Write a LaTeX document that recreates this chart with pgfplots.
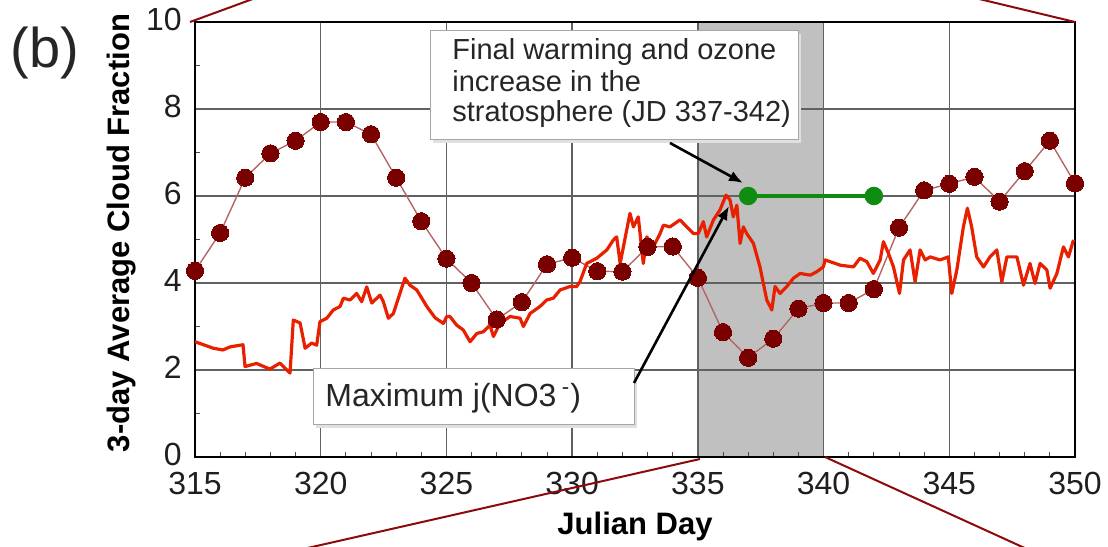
\documentclass[border=0pt]{standalone}
\usepackage{fontspec}
\setmainfont{Liberation Sans}
\usepackage{pgfplots}
\usepackage{pgfplotstable}
\pgfplotsset{compat=1.18}
\usetikzlibrary{arrows.meta}
\definecolor{dotred}{RGB}{122,0,0}
\definecolor{linkred}{RGB}{180,100,100}
\definecolor{jred}{RGB}{232,32,0}
\definecolor{ggreen}{RGB}{16,140,16}
\definecolor{zoomred}{RGB}{140,10,10}
\definecolor{band}{RGB}{192,192,192}

\pgfplotstableread{
x y
315.00 2.65
315.73 2.50
316.11 2.46
316.39 2.53
316.79 2.57
316.91 2.58
316.99 2.08
317.45 2.15
317.98 2.02
318.38 2.16
318.78 1.93
318.91 3.15
319.18 3.08
319.38 2.50
319.64 2.62
319.84 2.57
319.97 3.11
320.24 3.19
320.50 3.38
320.77 3.46
320.90 3.65
321.17 3.61
321.43 3.76
321.63 3.57
321.83 3.91
322.03 3.54
322.36 3.72
322.49 3.57
322.69 3.19
322.89 3.30
323.15 3.76
323.35 4.11
323.55 3.95
323.82 3.84
324.22 3.46
324.55 3.20
324.88 3.07
325.01 3.23
325.14 3.23
325.41 3.03
325.67 2.92
325.94 2.65
326.21 2.84
326.47 2.88
326.73 3.03
326.87 2.77
327.13 3.07
327.53 3.23
327.93 3.19
328.06 3.00
328.33 3.30
328.72 3.46
328.99 3.61
329.25 3.65
329.52 3.84
329.92 3.92
330.18 3.92
330.31 4.03
330.58 4.45
330.98 4.57
331.38 4.76
331.64 4.99
331.77 5.06
331.91 4.45
332.17 5.22
332.30 5.60
332.44 5.29
332.63 5.52
332.77 4.76
332.83 4.45
332.97 5.06
333.23 4.83
333.50 5.14
333.63 5.33
333.89 5.29
334.29 5.45
334.56 5.29
334.82 5.14
335.02 5.14
335.22 5.41
335.35 5.06
335.62 5.45
335.88 5.68
336.12 6.02
336.28 5.91
336.41 5.52
336.55 5.79
336.68 4.91
336.81 5.29
336.94 5.14
337.21 4.91
337.47 4.37
337.74 3.61
337.94 3.38
338.07 3.92
338.27 3.76
338.54 3.92
338.80 4.11
339.07 4.22
339.47 4.18
339.73 4.26
339.99 4.37
340.06 4.53
340.66 4.41
341.19 4.37
341.45 4.57
341.72 4.49
341.98 4.22
342.25 4.53
342.38 4.95
342.58 4.68
342.78 4.37
343.02 3.76
343.18 4.53
343.44 4.76
343.64 4.03
343.84 4.76
344.04 4.53
344.24 4.60
344.63 4.53
344.96 4.60
345.10 3.76
345.30 4.30
345.56 5.29
345.72 5.72
345.89 5.29
346.09 4.60
346.36 4.37
346.62 4.60
346.89 4.76
347.09 4.03
347.29 4.60
347.69 4.60
347.95 3.95
348.21 4.45
348.41 3.99
348.61 4.45
348.88 4.30
349.01 3.88
349.28 4.22
349.54 4.83
349.74 4.60
349.94 4.99
}\jno

\pgfplotstableread{
x y
315 4.28
316 5.15
317 6.42
318 6.98
319 7.27
320 7.70
321 7.70
322 7.42
323 6.42
324 5.42
325 4.56
326 4.00
327 3.16
328 3.56
329 4.43
330 4.58
331 4.27
332 4.26
333 4.83
334 4.84
335 4.12
336 2.87
337 2.28
338 2.72
339 3.41
340 3.54
341 3.54
342 3.86
343 5.27
344 6.13
345 6.28
346 6.44
347 5.87
348 6.57
349 7.27
350 6.29
}\cloud

\begin{document}
\begin{tikzpicture}
\begin{axis}[
  set layers,
  scale only axis,
  width=440pt, height=217.5pt,
  xmin=315, xmax=350, ymin=0, ymax=10,
  xtick={315,320,...,350},
  ytick={0,2,...,10},
  minor x tick num=4,
  minor y tick num=1,
  xtick pos=bottom, ytick pos=left,
  tick align=inside,
  major tick length=0pt,
  minor tick length=2.5pt,
  grid=major,
  major grid style={line width=0.75pt, color=black!62},
  minor tick style={line width=0.5pt, color=black!70},
  axis line style={line width=1.25pt},
  /pgf/number format/assume math mode=true,
  ticklabel style={font=\fontsize{16}{18}\selectfont, color=black!88, inner sep=0pt},
  xticklabel style={yshift=-7.5pt},
  yticklabel style={xshift=-6.5pt, yshift=1.2pt},
  xlabel={Julian Day},
  ylabel={3-day Average Cloud Fraction},
  label style={font=\fontsize{15.5}{18}\selectfont\bfseries},
  xlabel style={at={(rel axis cs:0.5,-0.1793)}, anchor=base},
  ylabel style={at={(rel axis cs:-0.0835,0.515)}, anchor=center},
]
\addplot[on layer=axis background, fill=band, draw=none] coordinates {(335,10) (340,10)} \closedcycle;
\addplot[color=linkred, line width=0.7pt, mark=*, mark size=4.3pt,
  mark options={fill=dotred, draw=dotred, line width=0pt}] table[x=x,y=y] {\cloud};
\addplot[color=jred, line width=1.6pt, no marks, line join=round] table[x=x,y=y] {\jno};
\addplot[color=ggreen, line width=2pt, mark=*, mark size=3.6pt,
  mark options={fill=ggreen, draw=ggreen}] coordinates {(337,6) (342,6)};
\end{axis}
\begin{scope}[x=0.5pt,y=-0.5pt,shift={(-195,-457)}]
  % zoom connector lines
  \draw[zoomred, line width=1pt] (190,22) -- (280,-11);
  \draw[zoomred, line width=1pt] (1075,22) -- (950,-8);
  \draw[zoomred, line width=1pt] (700,459) -- (290,552);
  \draw[zoomred, line width=1pt] (825,457) -- (1040,555);
  % panel label
  \node[anchor=base west, inner sep=0, font=\fontsize{28}{30}\selectfont, color=black!85] at (10,68) {(b)};
  % annotation box 1
  \fill[black!12] (433,34) rectangle (801,143);
  \draw[draw=black!35, fill=white, line width=0.5pt] (430,31) rectangle (798,140);
  \begin{scope}[every node/.style={anchor=base west, inner sep=0, font=\fontsize{14.5}{15.5}\selectfont, color=black!85}]
    \node at (452,60) {Final warming and ozone};
    \node at (452,92) {increase in the};
    \node at (452,122) {stratosphere (JD 337-342)};
  \end{scope}
  % annotation box 2
  \fill[black!12] (316,372) rectangle (637,428);
  \draw[draw=black!35, fill=white, line width=0.5pt] (313,369) rectangle (634,425);
  \node[anchor=base west, inner sep=0, font=\fontsize{16}{18}\selectfont, color=black!85] at (325,407) {Maximum j(NO3\,\textsuperscript{-})};
  % arrows
  \draw[-{Latex[length=7pt,width=5.5pt]}, line width=1.3pt] (670,143) -- (743,183);
  \draw[-{Latex[length=7pt,width=5.5pt]}, line width=1.3pt] (634,383) -- (729,206);
\end{scope}
\pgfresetboundingbox
\path[use as bounding box] (-97.5pt,-44.5pt) rectangle (456.5pt,228.5pt);
\end{tikzpicture}
\end{document}
